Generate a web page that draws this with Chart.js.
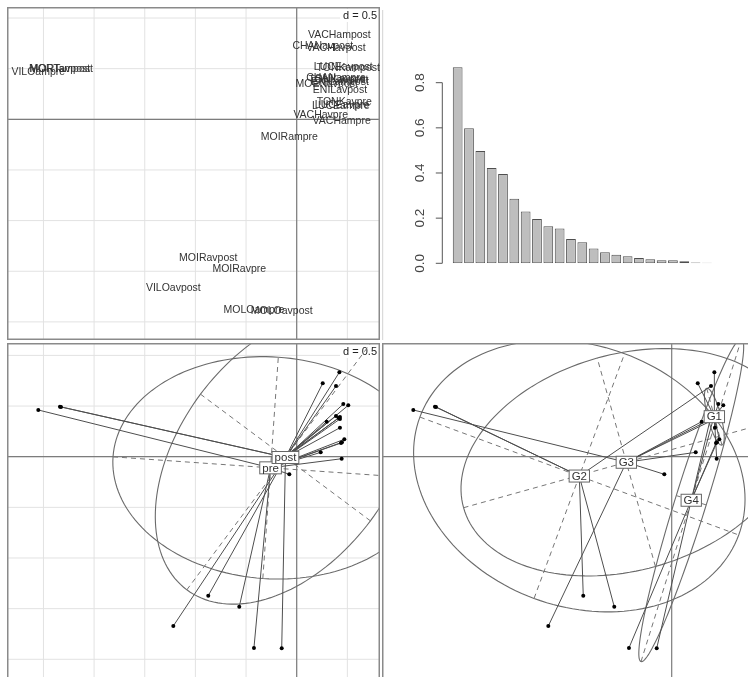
<!DOCTYPE html>
<html><head><meta charset="utf-8">
<script src="https://cdn.jsdelivr.net/npm/chart.js@4"></script>
<style>
html,body{margin:0;padding:0;background:#fff;width:748px;height:677px;overflow:hidden;position:relative}
canvas{position:absolute}
</style></head><body>
<canvas id="c1" width="373" height="333" style="left:7px;top:7px;width:373px;height:333px"></canvas>
<canvas id="c2" width="368" height="340" style="left:380px;top:0px;width:368px;height:340px"></canvas>
<canvas id="c3" width="373" height="337" style="left:7px;top:343px;width:373px;height:337px"></canvas>
<canvas id="c4" width="373" height="337" style="left:382px;top:343px;width:373px;height:337px"></canvas>
<script>
// ---------- data ----------
const names = ['VILOampre','MORTavpost','MORTampost','VACHampost','CHANavpost','VACHavpost','LUCEavpost','TONKampost','MOENavpost','CHANampre','GUILavpre','ENILampost','TONKavpost','ENILavpost','TONKavpre','LUCEampre','LUCEavpre','VACHavpre','VACHampre','MOIRampre','MOIRavpost','MOIRavpre','VILOavpost','MOLOampre','MOLOavpost'];
const axis1 = [-2.551,-2.337,-2.327,0.421,0.257,0.388,0.460,0.509,0.296,0.388,0.427,0.427,0.413,0.427,0.470,0.437,0.447,0.237,0.444,-0.073,-0.873,-0.567,-1.218,-0.422,-0.148];
const axis2 = [0.461,0.494,0.491,0.833,0.725,0.698,0.520,0.507,0.346,0.402,0.392,0.372,0.382,0.286,0.172,0.135,0.142,0.043,-0.020,-0.174,-1.372,-1.481,-1.671,-1.888,-1.891];
const period = ['pre','post','post','post','post','post','post','post','post','pre','pre','post','post','post','pre','pre','pre','pre','pre','pre','post','pre','post','pre','post'];
const group = ['G3','G2','G2','G1','G1','G2','G1','G1','G3','G4','G3','G3','G4','G1','G1','G4','G4','G3','G1','G3','G2','G2','G3','G4','G4'];

const periodLevels = ['pre','post'];
const periodCenterX = [-0.258,-0.111];
const periodCenterY = [-0.110,-0.008];
const periodEllA = [1.559,1.629];
const periodEllB = [1.095,1.046];
const periodEllAngle = [-4.0,53.3];

const groupLevels = ['G1','G2','G3','G4'];
const groupCenterX = [0.421,-0.912,-0.448,0.193];
const groupCenterY = [0.395,-0.191,-0.055,-0.430];
const groupEllA = [0.29,1.678,1.668,1.668];
const groupEllB = [0.065,1.288,1.068,0.155];
const groupEllAngle = [-75,-20.3,15.6,72.7];

const eigenvalues = [0.868,0.598,0.497,0.422,0.396,0.286,0.229,0.196,0.164,0.154,0.108,0.093,0.065,0.049,0.038,0.031,0.024,0.018,0.013,0.013,0.009,0.003,0.002];
const eigenTicks = [0,0.2,0.4,0.6,0.8];
const gridStep = 0.5;
const gridLabel = 'd = 0.5';

// ---------- view ----------
const VIEW_X = [-2.8598, 0.8223];
const VIEW_Y_TOP = [-2.1787, 1.1086];
const VIEW_Y_BOTTOM = [-2.2044, 1.1224];
const FONT = '"Liberation Sans", Arial, Helvetica, sans-serif';

function seg(ctx, x1, y1, x2, y2){ ctx.beginPath(); ctx.moveTo(x1,y1); ctx.lineTo(x2,y2); ctx.stroke(); }
function clipArea(ctx, a){ ctx.beginPath(); ctx.rect(a.left, a.top, a.right-a.left, a.bottom-a.top); ctx.clip(); }

function drawBackground(chart, withGrid, withD){
  const {ctx, chartArea:a, scales:{x, y}} = chart;
  ctx.save(); clipArea(ctx, a);
  if (withGrid){
    ctx.strokeStyle = '#e2e2e2'; ctx.lineWidth = 1;
    for (let k = Math.ceil(x.min/gridStep); k*gridStep <= x.max; k++){ const p = x.getPixelForValue(k*gridStep); seg(ctx, p, a.top, p, a.bottom); }
    for (let k = Math.ceil(y.min/gridStep); k*gridStep <= y.max; k++){ const p = y.getPixelForValue(k*gridStep); seg(ctx, a.left, p, a.right, p); }
  }
  ctx.strokeStyle = '#7c7c7c'; ctx.lineWidth = 1.2;
  const px0 = x.getPixelForValue(0), py0 = y.getPixelForValue(0);
  seg(ctx, px0, a.top, px0, a.bottom);
  seg(ctx, a.left, py0, a.right, py0);
  if (withD){
    ctx.font = '11px ' + FONT;
    const w = ctx.measureText(gridLabel).width;
    const xr = a.right - 3, yc = a.top + 8.5;
    ctx.fillStyle = '#fff'; ctx.fillRect(xr - w - 3, yc - 6.5, w + 5, 13);
    ctx.fillStyle = '#222'; ctx.textAlign = 'right'; ctx.textBaseline = 'middle';
    ctx.fillText(gridLabel, xr, yc);
  }
  ctx.restore();
}
function drawFrame(chart){
  const {ctx, chartArea:a} = chart;
  ctx.save(); ctx.strokeStyle = '#8a8a8a'; ctx.lineWidth = 1.5;
  ctx.strokeRect(a.left+0.75, a.top+0.75, a.right-a.left-1.5, a.bottom-a.top-1.5);
  ctx.restore();
}
function drawEllipses(chart, cx, cy, ea, eb, ang){
  const {ctx, chartArea:a, scales:{x, y}} = chart;
  ctx.save(); clipArea(ctx, a);
  for (let i = 0; i < cx.length; i++){
    const th = ang[i]*Math.PI/180, c = Math.cos(th), s = Math.sin(th);
    ctx.strokeStyle = '#6a6a6a'; ctx.lineWidth = 1.1; ctx.setLineDash([]);
    ctx.beginPath();
    for (let k = 0; k <= 160; k++){
      const t = k/160*2*Math.PI;
      const ex = cx[i] + ea[i]*Math.cos(t)*c - eb[i]*Math.sin(t)*s;
      const ey = cy[i] + ea[i]*Math.cos(t)*s + eb[i]*Math.sin(t)*c;
      const px = x.getPixelForValue(ex), py = y.getPixelForValue(ey);
      if (k === 0) ctx.moveTo(px, py); else ctx.lineTo(px, py);
    }
    ctx.stroke();
    ctx.setLineDash([5,4]); ctx.strokeStyle = '#767676'; ctx.lineWidth = 1;
    seg(ctx, x.getPixelForValue(cx[i]-ea[i]*c), y.getPixelForValue(cy[i]-ea[i]*s), x.getPixelForValue(cx[i]+ea[i]*c), y.getPixelForValue(cy[i]+ea[i]*s));
    seg(ctx, x.getPixelForValue(cx[i]+eb[i]*s), y.getPixelForValue(cy[i]-eb[i]*c), x.getPixelForValue(cx[i]-eb[i]*s), y.getPixelForValue(cy[i]+eb[i]*c));
  }
  ctx.restore();
}
function drawBoxLabels(chart, labels, cx, cy){
  const {ctx, chartArea:a, scales:{x, y}} = chart;
  ctx.save(); clipArea(ctx, a);
  ctx.font = '11.5px ' + FONT; ctx.textAlign = 'center'; ctx.textBaseline = 'middle';
  labels.forEach((t, i) => {
    const px = x.getPixelForValue(cx[i]), py = y.getPixelForValue(cy[i]);
    const w = ctx.measureText(t).width + 5, h = 12;
    ctx.fillStyle = '#fff'; ctx.fillRect(px - w/2, py - h/2, w, h);
    ctx.strokeStyle = '#666'; ctx.lineWidth = 1; ctx.strokeRect(px - w/2, py - h/2, w, h);
    ctx.fillStyle = '#333'; ctx.fillText(t, px, py + 0.5);
  });
  ctx.restore();
}
function baseOptions(ylim){
  return {
    responsive:false, animation:false, devicePixelRatio:1, events:[],
    layout:{padding:0, autoPadding:false},
    plugins:{legend:{display:false}, tooltip:{enabled:false}},
    scales:{
      x:{type:'linear', display:false, min:VIEW_X[0], max:VIEW_X[1]},
      y:{type:'linear', display:false, min:ylim[0], max:ylim[1]}
    }
  };
}
function starDatasets(levels, cx, cy, membership){
  const ds = [{
    data: axis1.map((v, i) => ({x:v, y:axis2[i]})),
    showLine:false, pointRadius:2, pointBackgroundColor:'#000', pointBorderWidth:0
  }];
  axis1.forEach((v, i) => {
    const g = levels.indexOf(membership[i]);
    ds.push({data:[{x:cx[g], y:cy[g]}, {x:v, y:axis2[i]}], showLine:true, pointRadius:0, borderColor:'#4e4e4e', borderWidth:1});
  });
  return ds;
}

// ---------- panel 1: labels ----------
new Chart(document.getElementById('c1'), {
  type:'scatter',
  data:{datasets:[{data: axis1.map((v, i) => ({x:v, y:axis2[i]})), pointRadius:0}]},
  options: baseOptions(VIEW_Y_TOP),
  plugins:[{
    id:'p1',
    beforeDatasetsDraw(chart){ drawBackground(chart, true, true); drawFrame(chart); },
    afterDatasetsDraw(chart){
      const {ctx, chartArea:a} = chart;
      ctx.save(); clipArea(ctx, a);
      ctx.font = '10.5px ' + FONT; ctx.fillStyle = '#333'; ctx.textAlign = 'center'; ctx.textBaseline = 'middle';
      chart.getDatasetMeta(0).data.forEach((el, i) => ctx.fillText(names[i], el.x, el.y));
      ctx.restore();
    }
  }]
});

// ---------- panel 2: eigenvalues ----------
new Chart(document.getElementById('c2'), {
  type:'bar',
  data:{labels: eigenvalues.map((_, i) => String(i+1)),
        datasets:[{data: eigenvalues, backgroundColor:'#bebebe', borderColor:'#4f4f4f', borderWidth:1, borderSkipped:false, barPercentage:0.86, categoryPercentage:1}]},
  options:{
    responsive:false, animation:false, devicePixelRatio:1, events:[],
    layout:{padding:{left:72, right:35.4, top:60.1, bottom:76.7}, autoPadding:false},
    plugins:{legend:{display:false}, tooltip:{enabled:false}},
    scales:{x:{display:false}, y:{display:false, min:0, max:0.9}}
  },
  plugins:[{
    id:'p2',
    afterDraw(chart){
      const {ctx, chartArea:a, scales:{y}} = chart;
      ctx.save();
      ctx.strokeStyle = '#d2d2d2'; ctx.lineWidth = 1; seg(ctx, 2.7, 10, 2.7, 340);
      const ax = a.left - 9.7;
      ctx.strokeStyle = '#555'; ctx.lineWidth = 1;
      seg(ctx, ax, y.getPixelForValue(eigenTicks[0]), ax, y.getPixelForValue(eigenTicks[eigenTicks.length-1]));
      ctx.font = '13.5px ' + FONT; ctx.fillStyle = '#444'; ctx.textAlign = 'center'; ctx.textBaseline = 'middle';
      eigenTicks.forEach(v => {
        const py = y.getPixelForValue(v);
        seg(ctx, ax, py, ax - 6.5, py);
        ctx.save(); ctx.translate(a.left - 32, py); ctx.rotate(-Math.PI/2);
        ctx.fillText(v.toFixed(1), 0, 0); ctx.restore();
      });
      ctx.restore();
    }
  }]
});

// ---------- panel 3: classes pre/post ----------
new Chart(document.getElementById('c3'), {
  type:'scatter',
  data:{datasets: starDatasets(periodLevels, periodCenterX, periodCenterY, period)},
  options: baseOptions(VIEW_Y_BOTTOM),
  plugins:[{
    id:'p3',
    beforeDatasetsDraw(chart){
      drawBackground(chart, true, true);
      drawEllipses(chart, periodCenterX, periodCenterY, periodEllA, periodEllB, periodEllAngle);
      drawFrame(chart);
    },
    afterDatasetsDraw(chart){ drawBoxLabels(chart, periodLevels, periodCenterX, periodCenterY); }
  }]
});

// ---------- panel 4: groups ----------
new Chart(document.getElementById('c4'), {
  type:'scatter',
  data:{datasets: starDatasets(groupLevels, groupCenterX, groupCenterY, group)},
  options: baseOptions(VIEW_Y_BOTTOM),
  plugins:[{
    id:'p4',
    beforeDatasetsDraw(chart){
      drawBackground(chart, false, false);
      drawEllipses(chart, groupCenterX, groupCenterY, groupEllA, groupEllB, groupEllAngle);
      drawFrame(chart);
    },
    afterDatasetsDraw(chart){ drawBoxLabels(chart, groupLevels, groupCenterX, groupCenterY); }
  }]
});
</script>
</body></html>
